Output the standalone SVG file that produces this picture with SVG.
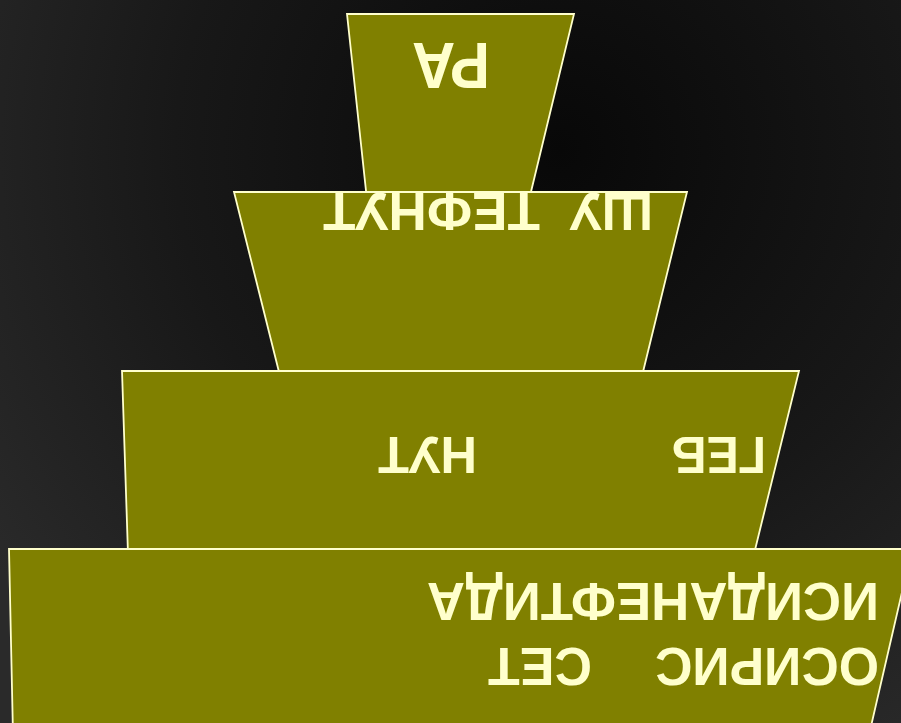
<svg xmlns="http://www.w3.org/2000/svg" width="901" height="723" viewBox="0 0 901 723">
<defs>
<radialGradient id="bg" cx="560" cy="150" r="700" gradientUnits="userSpaceOnUse">
<stop offset="0" stop-color="#080808"/>
<stop offset="0.55" stop-color="#181818"/>
<stop offset="1" stop-color="#2a2a2a"/>
</radialGradient>
<style>
.tier{fill:#808000;stroke:#FFFFCC;stroke-width:1.8;stroke-linejoin:miter}
.lbl{fill:#FFFFCC;font-family:"Liberation Sans",Arial,sans-serif;font-weight:bold;text-anchor:middle}
</style>
</defs>
<rect x="0" y="0" width="901" height="723" fill="url(#bg)"/>
<g id="tier-ra">
<polygon class="tier" points="347,14 574,14 529,200 367,200"/>
<text class="lbl" x="451" y="89" font-size="64" textLength="78" lengthAdjust="spacingAndGlyphs" transform="rotate(180 451 66)">РА</text>
</g>
<g id="tier-shu-tefnut">
<polygon class="tier" points="234,192 687,192 642,376 280,376"/>
<text class="lbl" x="611.5" y="232" font-size="54" textLength="83" lengthAdjust="spacingAndGlyphs" transform="rotate(180 611.5 212.5)">ШУ</text>
<text class="lbl" x="431.5" y="232" font-size="54" textLength="217" lengthAdjust="spacingAndGlyphs" transform="rotate(180 431.5 212.5)">ТЕФНУТ</text>
</g>
<g id="tier-geb-nut">
<polygon class="tier" points="122,371 799,371 754,554 128,554"/>
<text class="lbl" x="719" y="474" font-size="52" textLength="94" lengthAdjust="spacingAndGlyphs" transform="rotate(180 719 455.5)">ГЕБ</text>
<text class="lbl" x="427.5" y="474" font-size="52" textLength="99" lengthAdjust="spacingAndGlyphs" transform="rotate(180 427.5 455.5)">НУТ</text>
</g>
<g id="tier-osiris-set-isida-neftida">
<polygon class="tier" points="9,549 912,549 869,735 13,735"/>
<text class="lbl" x="653" y="622" font-size="54" textLength="452" lengthAdjust="spacingAndGlyphs" transform="rotate(180 653 602.5)">ИСИДАНЕФТИДА</text>
<text class="lbl" x="767" y="686.5" font-size="54" textLength="224" lengthAdjust="spacingAndGlyphs" transform="rotate(180 767 667)">ОСИРИС</text>
<text class="lbl" x="540" y="686.5" font-size="54" textLength="104" lengthAdjust="spacingAndGlyphs" transform="rotate(180 540 667)">СЕТ</text>
</g>
<g id="connectors"/>
</svg>
